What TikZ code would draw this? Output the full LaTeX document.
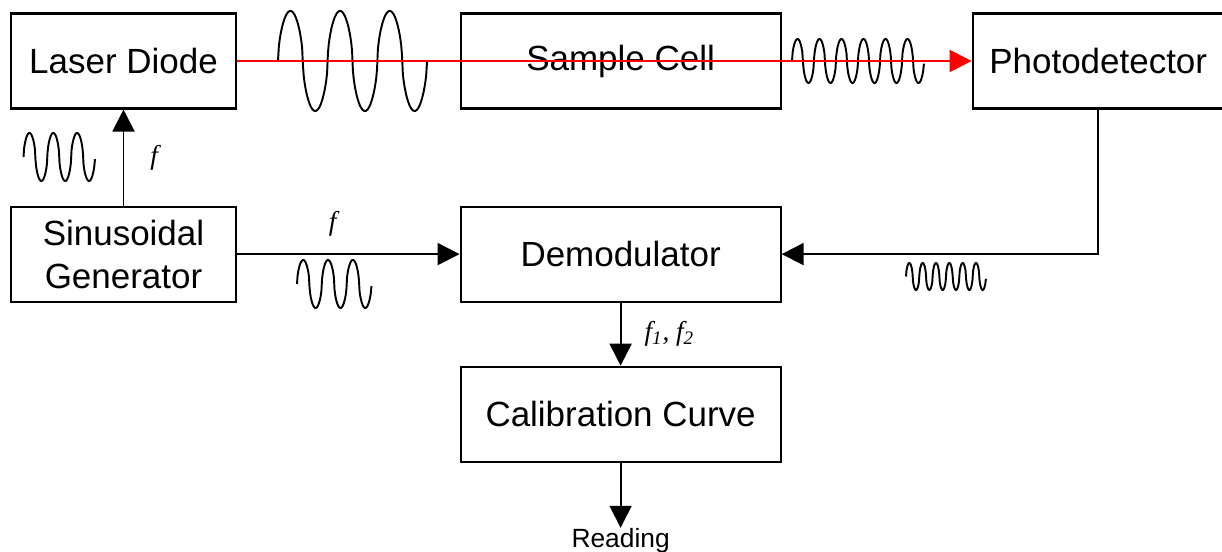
\documentclass[tikz,border=0pt]{standalone}
\usepackage{fontspec}
\setmainfont{Liberation Sans}
\newfontfamily\serifit{Liberation Serif}
\usepackage{tikz}
\usetikzlibrary{positioning, arrows.meta}

\begin{document}
\begin{tikzpicture}[
    block/.style={rectangle, draw, line width=1.2pt, minimum width=4.5cm, minimum height=1.9cm, inner sep=0pt, align=center, font=\fontsize{19.9}{24.5}\selectfont},
    wideblock/.style={block, minimum width=6.4cm},
    link/.style={line width=1.1pt, -{Triangle[length=0.44cm, width=0.44cm]}},
    beam/.style={red, line width=1.3pt, -{Triangle[length=0.44cm, width=0.44cm]}},
    wave/.style={line width=1.1pt},
    freq/.style={inner sep=0pt, font=\serifit\itshape\fontsize{15.5}{17}\selectfont},
    declare function={arch(\t)=sign(sin(\t))*pow(abs(sin(\t))+0.0001,0.55);}
]
\useasboundingbox (0,0) rectangle (24.44,-11.04);

% blocks
\node[block] (laser) at (2.47,-1.22) {Laser Diode};
\node[wideblock, right=4.45cm of laser] (sample) {Sample Cell};
\node[block, right=3.8cm of sample, minimum width=5.02cm] (photo) {Photodetector};
\node[block, below=1.92cm of laser] (gen) {Sinusoidal\\Generator};
\node[wideblock, below=1.92cm of sample] (demod) {Demodulator};
\node[wideblock, below=1.26cm of demod] (calib) {Calibration Curve};
\node[inner sep=0pt, below=1.3cm of calib, font=\fontsize{15}{17}\selectfont] (reading) {Reading};

% signal sketches
\draw[wave, shift={(5.56,-1.22)}] plot[domain=0:2.98, samples=180] (\x, {1.0*arch(3*360*\x/2.98)});
\draw[wave, shift={(15.84,-1.22)}] plot[domain=0:2.64, samples=180] (\x, {0.44*arch(6*360*\x/2.64)});
\draw[wave, shift={(0.47,-3.14)}] plot[domain=0:1.43, samples=120] (\x, {0.48*arch(3*360*\x/1.43)});
\draw[wave, shift={(5.94,-5.68)}] plot[domain=0:1.49, samples=120] (\x, {0.48*arch(3*360*\x/1.49)});
\draw[wave, shift={(18.12,-5.53)}] plot[domain=0:1.6, samples=150] (\x, {0.27*arch(6*360*\x/1.6)});

% connections
\draw[beam] (laser.east) -- (photo.west);
\draw[link] (gen) -- node[freq, right=0.52cm] {f} (laser);
\draw[link] (gen) -- node[freq, pos=0.43, above=0.33cm] {f} (demod);
\draw[link] (photo.south) |- (demod.east);
\draw[link] (demod) -- node[freq, right=0.46cm] {f\textsubscript{1}, f\textsubscript{2}} (calib);
\draw[link] (calib) -- (reading);
\end{tikzpicture}
\end{document}
